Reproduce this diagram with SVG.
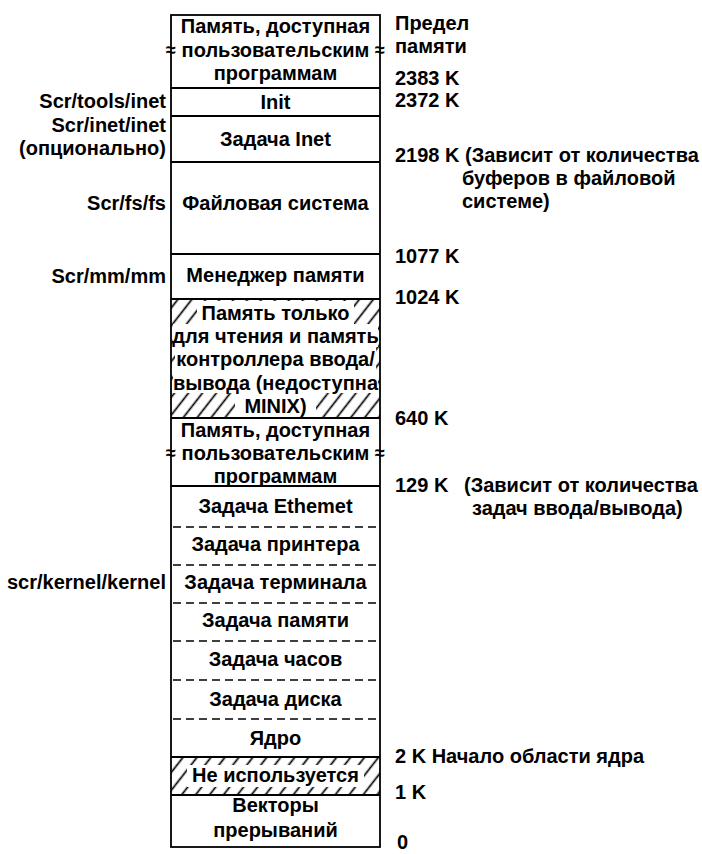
<svg xmlns="http://www.w3.org/2000/svg" width="702" height="854" viewBox="0 0 702 854">
<style>
text{font-family:"Liberation Sans",Arial,sans-serif;font-size:20px;font-weight:bold;fill:#000}
.c{text-anchor:middle}
.l{text-anchor:end}
.sep{stroke:#000;stroke-width:1.8;fill:none}
.dash{stroke:#000;stroke-width:1.6;stroke-dasharray:8 5;fill:none}
.wb{fill:#fff}
.sq{font-size:18px;text-anchor:middle}
</style>
<defs>
<pattern id="hatch" width="11" height="11" patternUnits="userSpaceOnUse" patternTransform="rotate(38)">
<line x1="5.5" y1="0" x2="5.5" y2="11" stroke="#000" stroke-width="1.7"/>
</pattern>
</defs>
<rect width="702" height="854" fill="#fff"/>

<g id="rom">
<rect x="171" y="299" width="209" height="119" fill="url(#hatch)"/>
<rect class="wb" x="197" y="301" width="157" height="23"/>
<rect class="wb" x="173" y="324" width="205" height="23"/>
<rect class="wb" x="175" y="347" width="201" height="23"/>
<rect class="wb" x="173" y="370" width="205" height="23"/>
<rect class="wb" x="235" y="393" width="81" height="24"/>
<text class="c" x="275.5" y="320">Память только</text>
<text class="c" x="275.5" y="343">для чтения и память</text>
<text class="c" x="275.5" y="366">контроллера ввода/</text>
<text class="c" x="275.5" y="389.5">вывода (недоступна</text>
<text class="c" x="275.5" y="413">MINIX)</text>
</g>

<g id="unused">
<rect x="171" y="757" width="209" height="38" fill="url(#hatch)"/>
<rect class="wb" x="187" y="765" width="177" height="22"/>
<text class="c" x="275.5" y="782">Не используется</text>
</g>

<g id="frame">
<rect x="171" y="15" width="209" height="832" class="sep"/>
<path class="sep" d="M171 88H380M171 116H380M171 162H380M171 254H380M171 299H380M171 418H380M171 486H380M171 757H380M171 795H380"/>
<path class="dash" d="M173 527H380M173 565H380M173 603H380M173 641H380M173 680H380M173 719H380"/>
</g>

<g id="user-top">
<text class="c" x="275.5" y="33">Память, доступная</text>
<text class="c" x="275.5" y="57">пользовательским</text>
<text class="c" x="275.5" y="80">программам</text>
<text class="sq" x="171" y="56">≈</text>
<text class="sq" x="380" y="56">≈</text>
</g>
<g id="init"><text class="c" x="275.5" y="109">Init</text></g>
<g id="inet"><text class="c" x="275.5" y="146">Задача Inet</text></g>
<g id="fs"><text class="c" x="275.5" y="210">Файловая система</text></g>
<g id="mm"><text class="c" x="275.5" y="282">Менеджер памяти</text></g>
<g id="user-low">
<text class="c" x="275.5" y="437">Память, доступная</text>
<text class="c" x="275.5" y="460">пользовательским</text>
<text class="c" x="275.5" y="483">программам</text>
<text class="sq" x="171" y="459">≈</text>
<text class="sq" x="380" y="459">≈</text>
</g>
<g id="ethernet"><text class="c" x="275.5" y="513">Задача Ethemet</text></g>
<g id="printer"><text class="c" x="275.5" y="551">Задача принтера</text></g>
<g id="terminal"><text class="c" x="275.5" y="589">Задача терминала</text></g>
<g id="memtask"><text class="c" x="275.5" y="627">Задача памяти</text></g>
<g id="clock"><text class="c" x="275.5" y="666">Задача часов</text></g>
<g id="disk"><text class="c" x="275.5" y="706">Задача диска</text></g>
<g id="kernel"><text class="c" x="275.5" y="745">Ядро</text></g>
<g id="vectors">
<text class="c" x="275.5" y="812">Векторы</text>
<text class="c" x="275.5" y="837">прерываний</text>
</g>

<g id="left-labels">
<text class="l" x="166" y="108">Scr/tools/inet</text>
<text class="l" x="166" y="132">Scr/inet/inet</text>
<text class="l" x="166" y="155">(опционально)</text>
<text class="l" x="166" y="210">Scr/fs/fs</text>
<text class="l" x="166" y="283">Scr/mm/mm</text>
<text class="l" x="166" y="589">scr/kernel/kernel</text>
</g>

<g id="right-labels">
<text x="395" y="30">Предел</text>
<text x="395" y="53">памяти</text>
<text x="395" y="85">2383 K</text>
<text x="395" y="107">2372 K</text>
<text x="395" y="162">2198 K (Зависит от количества</text>
<text x="462" y="185">буферов в файловой</text>
<text x="462" y="208">системе)</text>
<text x="395" y="263">1077 K</text>
<text x="395" y="304">1024 K</text>
<text x="395" y="425">640 K</text>
<text x="395" y="492">129 K</text>
<text x="464" y="492">(Зависит от количества</text>
<text x="472" y="515">задач ввода/вывода)</text>
<text x="395" y="763">2 K Начало области ядра</text>
<text x="395" y="799">1 K</text>
<text x="397" y="849">0</text>
</g>
</svg>
